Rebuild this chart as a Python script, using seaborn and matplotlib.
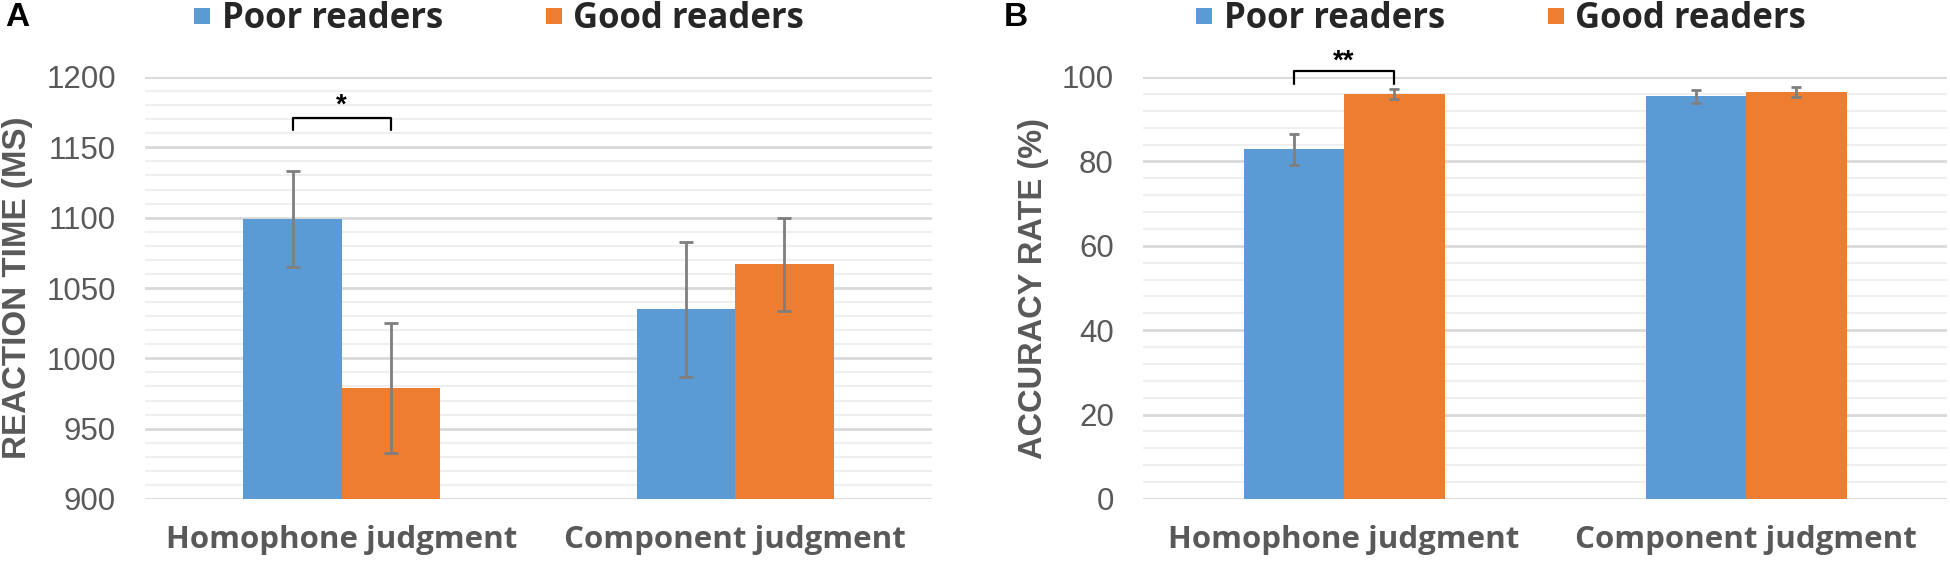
import matplotlib
matplotlib.use("Agg")
import matplotlib.pyplot as plt
from matplotlib.ticker import MultipleLocator
from matplotlib.lines import Line2D
import seaborn as sns
import pandas as pd

# ---------------- data ----------------
conditions = ["Homophone judgment", "Component judgment"]
groups = ["Poor readers", "Good readers"]

rt_poor = [1099, 1035]
rt_good = [979, 1067]
rt_poor_err = [34, 48]
rt_good_err = [46, 33]

acc_poor = [82.9, 95.4]
acc_good = [95.9, 96.5]
acc_poor_err = [3.7, 1.5]
acc_good_err = [1.2, 1.2]

colors = ["#5B9BD5", "#ED7D31"]

sns.set_theme(style="white")
plt.rcParams["font.family"] = ["Liberation Sans", "DejaVu Sans"]

W, H = 1950, 561
fig = plt.figure(figsize=(W / 100, H / 100), dpi=100)
axA = fig.add_axes([145 / W, 1 - 499 / H, 787 / W, 422 / H])
axB = fig.add_axes([1143 / W, 1 - 499 / H, 804 / W, 422 / H])

GRAY = "#595959"


def make_df(poor, good):
    return pd.DataFrame({
        "condition": conditions * 2,
        "group": [groups[0]] * 2 + [groups[1]] * 2,
        "value": list(poor) + list(good),
    })


def draw(ax, poor, good, perr, gerr, ylim, major, minor, ylabel, capsize):
    df = make_df(poor, good)
    sns.barplot(data=df, x="condition", y="value", hue="group",
                order=conditions, hue_order=groups, palette=colors,
                width=0.5, errorbar=None, legend=False, ax=ax,
                saturation=1, linewidth=0)
    centers = []
    for cont, vals, errs in zip(ax.containers, [poor, good], [perr, gerr]):
        xs = [p.get_x() + p.get_width() / 2 for p in cont.patches]
        centers.append(xs)
        ax.errorbar(xs, vals, yerr=errs, fmt="none", ecolor="#7F7F7F",
                    elinewidth=2, capsize=capsize, capthick=2, zorder=5)
    ax.set_ylim(*ylim)
    ax.yaxis.set_major_locator(MultipleLocator(major))
    ax.yaxis.set_minor_locator(MultipleLocator(minor))
    ax.set_axisbelow(True)
    ax.grid(which="major", axis="y", color="#D9D9D9", lw=2)
    ax.grid(which="minor", axis="y", color="#EFEFEF", lw=1.5)
    ax.grid(which="both", axis="x", visible=False)
    for s in ax.spines.values():
        s.set_visible(False)
    ax.tick_params(which="both", length=0)
    ax.tick_params(axis="y", labelsize=22.5, labelcolor=GRAY, pad=21)
    ax.tick_params(axis="x", labelsize=22.5, labelcolor=GRAY, pad=19)
    for lbl in ax.get_xticklabels():
        lbl.set_fontfamily(["Open Sans", "DejaVu Sans"])
        lbl.set_fontweight("bold")
    ax.set_xlabel("")
    ax.set_ylabel(ylabel, fontsize=22, fontweight="bold", color=GRAY)
    ax.yaxis.label.set_va("center")
    return centers


def bracket(ax, x0, x1, ylow, yhigh, ystar, text):
    ax.plot([x0, x0, x1, x1], [ylow, yhigh, yhigh, ylow], color="black",
            lw=1.6, clip_on=False, zorder=6, scalex=False, scaley=False)
    ax.text((x0 + x1) / 2, ystar, text, ha="center", va="center",
            fontsize=20, fontweight="bold", color="black", clip_on=False)


cA = draw(axA, rt_poor, rt_good, rt_poor_err, rt_good_err, (900, 1200), 50, 10,
          "REACTION TIME (MS)", 4.7)
axA.yaxis.set_label_coords(-0.1614, 0.5)
cB = draw(axB, acc_poor, acc_good, acc_poor_err, acc_good_err, (0, 100), 20, 4,
          "ACCURACY RATE (%)", 3.8)
axB.yaxis.set_label_coords(-0.1356, 0.5)

bracket(axA, cA[0][0], cA[1][0], 1162.5, 1171, 1180, "*")
bracket(axB, cB[0][0], cB[1][0], 98.3, 101.4, 103.6, "**")

for ax, lim in ((axA, (900, 1200)), (axB, (0, 100))):
    ax.set_xlim(-0.5, len(conditions) - 0.5)
    ax.set_ylim(*lim)

# scale y-axis titles so that each spans ~341 px, as in the reference
fig.canvas.draw()
renderer = fig.canvas.get_renderer()
for ax in (axA, axB):
    lab = ax.yaxis.label
    h = lab.get_window_extent(renderer).height
    lab.set_fontsize(lab.get_fontsize() * 341.0 / h)

# legends
handles = [Line2D([], [], ls="none", marker="s", markersize=11.5,
                  markerfacecolor=c, markeredgewidth=0) for c in colors]
for xc in (498 / W, 1500 / W):
    fig.legend(handles, groups, loc="center", bbox_to_anchor=(xc, 1 - 19 / H),
               ncol=2, frameon=False, handlelength=0.6, handletextpad=0.25,
               columnspacing=2.9,
               prop={"family": ["Open Sans", "DejaVu Sans"], "weight": "bold",
                     "size": 25})

fig.text(5 / W, 1 - 17 / H, "A", ha="left", va="center", fontsize=24,
         fontweight="bold", color="black")
fig.text(1004 / W, 1 - 17 / H, "B", ha="left", va="center", fontsize=24,
         fontweight="bold", color="black")

fig.savefig("out.png", dpi=100)
